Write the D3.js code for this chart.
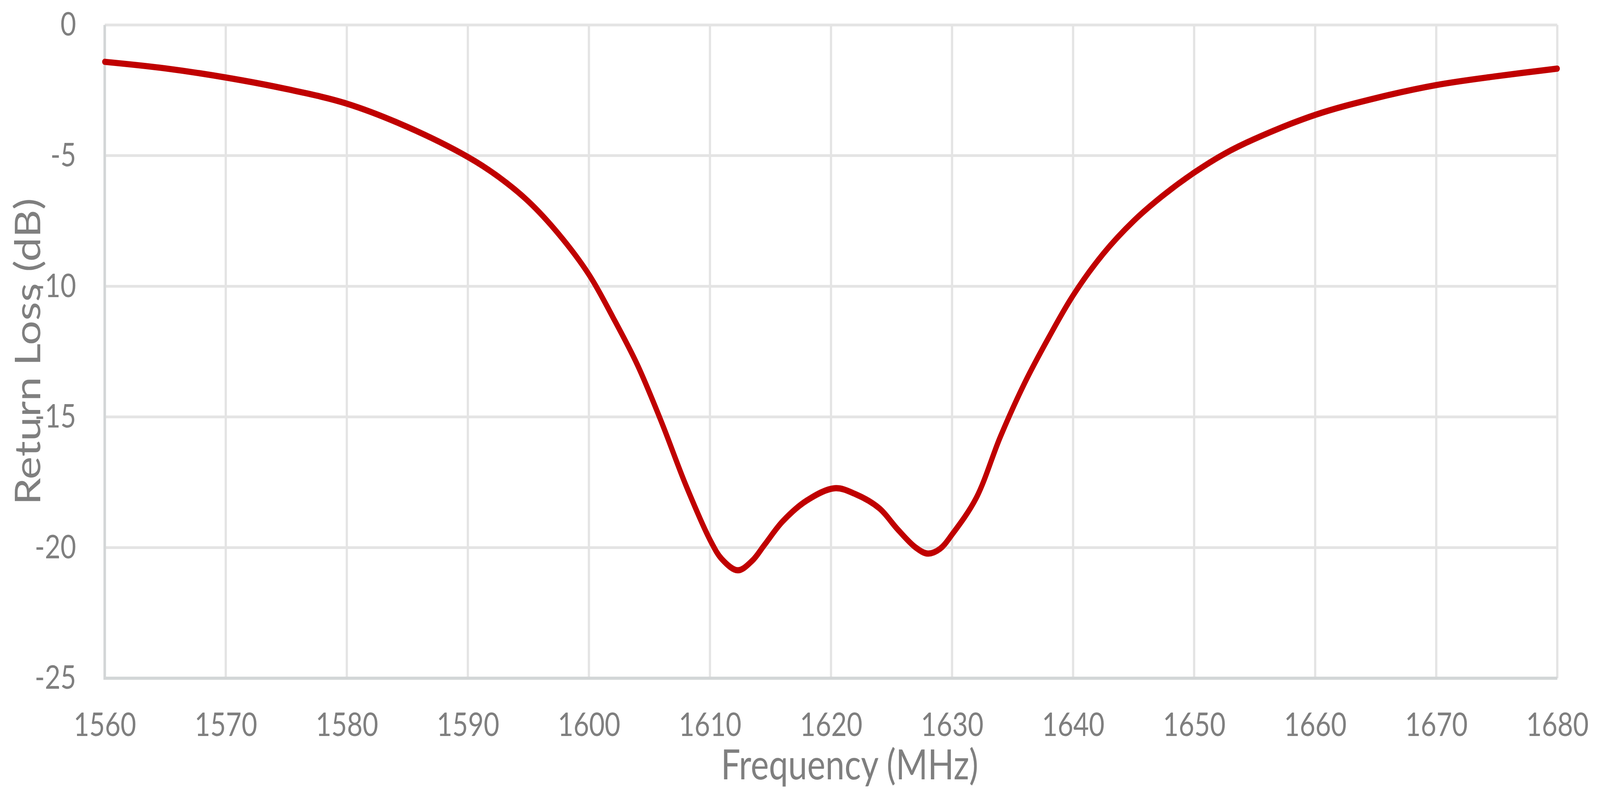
<!DOCTYPE html>
<html>
<head>
<meta charset="utf-8">
<script src="https://cdn.jsdelivr.net/npm/d3@7"></script>
<style>
html, body { margin: 0; padding: 0; background: #fff; overflow: hidden; }
svg { display: block; }
text { font-family: Lato, "Open Sans", sans-serif; fill: #7f7f7f; }
</style>
</head>
<body>
<script>

var freqMHz = [1560, 1565, 1570, 1575, 1580, 1585, 1590, 1592.5, 1595, 1597.5,
	1600, 1602, 1604, 1606, 1608, 1610, 1611, 1612.3, 1613.5, 1614.5,
	1616, 1618, 1620.3, 1622, 1624, 1625.5, 1627, 1628, 1629, 1630,
	1632, 1634, 1636, 1638, 1640, 1642.5, 1645, 1647.5, 1650, 1652.5,
	1655, 1660, 1665, 1670, 1675, 1680];
var returnLossDb = [-1.41, -1.66, -2.01, -2.45, -3.01, -3.9, -5.05, -5.8, -6.75, -8.0,
	-9.55, -11.2, -13.0, -15.2, -17.6, -19.7, -20.45, -20.87, -20.5, -19.9,
	-19.0, -18.2, -17.73, -17.95, -18.5, -19.3, -20.0, -20.23, -20.05, -19.5,
	-18.1, -15.75, -13.7, -11.95, -10.35, -8.75, -7.5, -6.5, -5.65, -4.93,
	-4.36, -3.44, -2.8, -2.3, -1.96, -1.67];

// axes
var xTickValues = [1560, 1570, 1580, 1590, 1600, 1610, 1620, 1630, 1640, 1650, 1660, 1670, 1680];
var yTickValues = [0, -5, -10, -15, -20, -25];
var xTitle = "Frequency (MHz)";
var yTitle = "Return Loss (dB)";

// drawing is done in a fixed 4981 x 2031 space, stretched to fill the window
var width = 4981, height = 2031;
var plotLeft = 326, plotRight = 4848, plotTop = 64, plotBottom = 1737;

var x = d3.scaleLinear().domain([1560, 1680]).range([plotLeft, plotRight]);
var y = d3.scaleLinear().domain([-25, 0]).range([plotBottom, plotTop]);

var svg = d3.select("body").append("svg")
	.attr("viewBox", "0 0 " + width + " " + height)
	.attr("preserveAspectRatio", "none")
	.style("width", "100vw")
	.style("height", "100vh");

// gridlines
svg.append("g").selectAll("line")
	.data(xTickValues)
	.enter().append("line")
	.attr("x1", function (d) { return x(d); })
	.attr("x2", function (d) { return x(d); })
	.attr("y1", plotTop)
	.attr("y2", plotBottom)
	.attr("stroke", "#e4e4e4")
	.attr("stroke-width", 7);
svg.append("g").selectAll("line")
	.data(yTickValues)
	.enter().append("line")
	.attr("x1", plotLeft)
	.attr("x2", plotRight)
	.attr("y1", function (d) { return y(d); })
	.attr("y2", function (d) { return y(d); })
	.attr("stroke", "#e4e4e4")
	.attr("stroke-width", 7);

// axis lines (left and bottom)
svg.append("line")
	.attr("x1", plotLeft).attr("x2", plotLeft)
	.attr("y1", plotTop).attr("y2", plotBottom + 4)
	.attr("stroke", "#d3d6d7").attr("stroke-width", 8);
svg.append("line")
	.attr("x1", plotLeft).attr("x2", plotRight)
	.attr("y1", plotBottom).attr("y2", plotBottom)
	.attr("stroke", "#d3d6d7").attr("stroke-width", 8);

// tick labels
var xAxis = svg.append("g")
	.attr("transform", "translate(0," + plotBottom + ")")
	.call(d3.axisBottom(x).tickValues(xTickValues).tickSize(0).tickPadding(88)
		.tickFormat(function (d) { return String(d); }));
var yAxis = svg.append("g")
	.attr("transform", "translate(" + plotLeft + ",0)")
	.call(d3.axisLeft(y).tickValues(yTickValues).tickSize(0).tickPadding(89)
		.tickFormat(function (d) { return String(d); }));
[xAxis, yAxis].forEach(function (g) {
	g.select(".domain").remove();
	g.selectAll("text")
		.attr("fill", "#7f7f7f")
		.style("font-family", "Lato, 'Open Sans', sans-serif")
		.style("font-size", "84px");
});

// axis titles
svg.append("text")
	.attr("x", 2645)
	.attr("y", 1996)
	.attr("text-anchor", "middle")
	.style("font-size", "107px")
	.text(xTitle);
svg.append("text")
	.attr("transform", "translate(125," + ((plotTop + plotBottom) / 2) + ") rotate(-90)")
	.attr("text-anchor", "middle")
	.style("font-size", "111px")
	.text(yTitle);

// the curve
var line = d3.line()
	.x(function (d, i) { return x(freqMHz[i]); })
	.y(function (d) { return y(d); })
	.curve(d3.curveCatmullRom.alpha(0.5));

svg.append("path")
	.datum(returnLossDb)
	.attr("d", line)
	.attr("fill", "none")
	.attr("stroke", "#c00000")
	.attr("stroke-width", 16)
	.attr("stroke-linecap", "round")
	.attr("stroke-linejoin", "round");

</script>
</body>
</html>
